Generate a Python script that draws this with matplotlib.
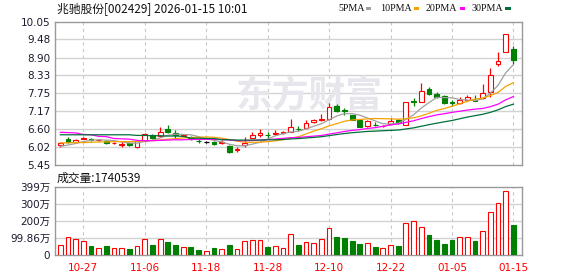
import matplotlib
matplotlib.use("Agg")
import matplotlib.pyplot as plt
import numpy as np

# ---------------- data ----------------
dates = ["10-22", "10-23", "10-24", "10-27", "10-28", "10-29", "10-30", "10-31", "11-03", "11-04",
         "11-05", "11-06", "11-07", "11-10", "11-11", "11-12", "11-13", "11-14", "11-17", "11-18",
         "11-19", "11-20", "11-21", "11-24", "11-25", "11-26", "11-27", "11-28", "12-01", "12-02",
         "12-03", "12-04", "12-05", "12-08", "12-09", "12-10", "12-11", "12-12", "12-15", "12-16",
         "12-17", "12-18", "12-19", "12-22", "12-23", "12-24", "12-25", "12-26", "12-29", "12-30",
         "12-31", "01-05", "01-06", "01-07", "01-08", "01-09", "01-12", "01-13", "01-14", "01-15"]
tick_labels = ["10-27", "11-06", "11-18", "11-28", "12-10", "12-22", "01-05", "01-15"]

opens = [6.08, 6.28, 6.19, 6.30, 6.28, 6.24, 6.22, 6.16, 6.10, 6.15,
         6.02, 6.23, 6.41, 6.38, 6.60, 6.49, 6.37, 6.35, 6.22, 6.19,
         6.20, 6.15, 6.07, 5.94, 6.10, 6.33, 6.40, 6.42, 6.46, 6.48,
         6.52, 6.62, 6.65, 6.84, 6.88, 6.92, 7.35, 7.21, 7.05, 6.89,
         6.70, 6.74, 6.69, 6.76, 6.91, 6.75, 7.49, 7.48, 7.89, 7.74,
         7.66, 7.46, 7.44, 7.54, 7.54, 7.59, 7.78, 8.70, 9.09, 9.17]
highs = [6.20, 6.35, 6.28, 6.36, 6.31, 6.27, 6.24, 6.19, 6.21, 6.19,
         6.25, 6.47, 6.45, 6.67, 6.75, 6.57, 6.46, 6.37, 6.28, 6.23,
         6.21, 6.25, 6.08, 6.03, 6.35, 6.50, 6.60, 6.50, 6.56, 6.55,
         6.93, 6.71, 6.88, 6.93, 7.09, 7.44, 7.41, 7.27, 7.06, 6.89,
         6.88, 6.84, 6.74, 6.97, 6.93, 7.47, 7.59, 8.08, 7.95, 7.78,
         7.70, 7.54, 7.63, 7.70, 7.70, 8.05, 8.55, 9.09, 9.67, 9.26]
lows = [6.04, 6.16, 6.16, 6.27, 6.23, 6.21, 6.13, 6.14, 6.04, 6.05,
        6.01, 6.22, 6.29, 6.36, 6.47, 6.29, 6.34, 6.26, 6.15, 6.16,
        6.10, 6.12, 5.85, 5.86, 6.03, 6.31, 6.34, 6.33, 6.42, 6.46,
        6.50, 6.54, 6.62, 6.79, 6.86, 6.91, 7.16, 7.05, 6.89, 6.66,
        6.67, 6.71, 6.67, 6.76, 6.77, 6.73, 7.35, 7.48, 7.70, 7.61,
        7.42, 7.35, 7.42, 7.50, 7.50, 7.58, 7.63, 8.64, 9.09, 8.70]
closes = [6.17, 6.20, 6.26, 6.33, 6.26, 6.25, 6.15, 6.17, 6.12, 6.08,
          6.23, 6.45, 6.32, 6.51, 6.50, 6.41, 6.41, 6.27, 6.21, 6.19,
          6.12, 6.18, 5.88, 5.97, 6.17, 6.40, 6.47, 6.40, 6.49, 6.51,
          6.67, 6.59, 6.79, 6.90, 6.92, 7.31, 7.19, 7.17, 6.90, 6.68,
          6.86, 6.72, 6.71, 6.87, 6.79, 7.47, 7.46, 7.81, 7.72, 7.63,
          7.45, 7.43, 7.53, 7.64, 7.52, 7.75, 8.33, 8.79, 9.67, 8.81]

ma5 = [6.05, 6.09, 6.14, 6.20, 6.244, 6.26, 6.25, 6.232, 6.19, 6.154,
       6.15, 6.21, 6.24, 6.318, 6.402, 6.438, 6.43, 6.42, 6.36, 6.298,
       6.24, 6.194, 6.116, 6.068, 6.064, 6.12, 6.178, 6.282, 6.386, 6.454,
       6.508, 6.532, 6.61, 6.692, 6.774, 6.902, 7.022, 7.098, 7.098, 7.05,
       6.96, 6.866, 6.774, 6.768, 6.79, 6.912, 7.06, 7.28, 7.45, 7.618,
       7.614, 7.608, 7.552, 7.536, 7.514, 7.574, 7.754, 8.006, 8.412, 8.67]
ma10 = [6.16, 6.16, 6.17, 6.17, 6.18, 6.19, 6.19, 6.20, 6.20, 6.199,
        6.205, 6.23, 6.236, 6.254, 6.278, 6.294, 6.32, 6.33, 6.339, 6.35,
        6.339, 6.312, 6.268, 6.214, 6.181, 6.18, 6.186, 6.199, 6.227, 6.259,
        6.314, 6.355, 6.446, 6.539, 6.614, 6.705, 6.777, 6.854, 6.895, 6.912,
        6.931, 6.944, 6.936, 6.933, 6.92, 6.936, 6.963, 7.027, 7.109, 7.204,
        7.263, 7.334, 7.416, 7.493, 7.566, 7.594, 7.681, 7.779, 7.974, 8.092]
ma20 = [6.50, 6.49, 6.48, 6.43, 6.42, 6.37, 6.36, 6.30, 6.29, 6.28,
        6.24, 6.23, 6.23, 6.24, 6.25, 6.26, 6.26, 6.27, 6.27, 6.275,
        6.272, 6.271, 6.252, 6.234, 6.23, 6.237, 6.253, 6.265, 6.283, 6.305,
        6.327, 6.334, 6.357, 6.377, 6.398, 6.443, 6.482, 6.527, 6.561, 6.586,
        6.623, 6.65, 6.691, 6.736, 6.767, 6.82, 6.87, 6.94, 7.002, 7.058,
        7.097, 7.139, 7.176, 7.213, 7.243, 7.265, 7.322, 7.403, 7.542, 7.648]
ma30 = [6.42, 6.42, 6.42, 6.42, 6.42, 6.42, 6.42, 6.42, 6.42, 6.42,
        6.40, 6.40, 6.39, 6.39, 6.38, 6.38, 6.37, 6.31, 6.31, 6.30,
        6.30, 6.26, 6.26, 6.25, 6.25, 6.25, 6.25, 6.26, 6.26, 6.269,
        6.286, 6.299, 6.317, 6.336, 6.358, 6.393, 6.428, 6.461, 6.487, 6.507,
        6.528, 6.537, 6.55, 6.562, 6.572, 6.607, 6.642, 6.693, 6.744, 6.792,
        6.836, 6.878, 6.933, 6.988, 7.033, 7.078, 7.14, 7.22, 7.326, 7.403]

# volume in 万
volume = [56, 108, 96, 80, 51, 43, 51, 39, 43, 34,
          50, 91, 57, 91, 76, 58, 45, 47, 29, 23,
          41, 35, 58, 35, 80, 86, 86, 47, 51, 39,
          121, 58, 78, 72, 92, 156, 105, 99, 82, 64,
          68, 47, 39, 58, 53, 185, 197, 164, 117, 88,
          64, 88, 103, 103, 82, 138, 249, 302, 374, 174.0539]
vol_up = [1, 1, 1, 1, 0, 1, 0, 1, 1, 0,
          1, 1, 0, 1, 0, 0, 1, 0, 0, 1,
          0, 1, 0, 1, 1, 1, 1, 0, 1, 1,
          1, 0, 1, 1, 1, 1, 0, 0, 0, 0,
          1, 0, 1, 1, 0, 1, 1, 1, 0, 0,
          0, 0, 1, 1, 0, 1, 1, 1, 1, 0]

price_ticks = [5.45, 6.02, 6.60, 7.17, 7.75, 8.33, 8.90, 9.48, 10.05]
vol_ticks = [0, 99.86, 199.72, 299.58, 399.44]
vol_tick_labels = ["0", "99.86万", "200万", "300万", "399万"]

# ---------------- style ----------------
RED = "#ff0000"
GREEN = "#008000"
C_MA5 = "#a0a0a0"
C_MA10 = "#f5a200"
C_MA20 = "#ff00ff"
C_MA30 = "#00703a"
FRAME = "#999999"
GRID = "#d2d2d2"
FONTS = ["DejaVu Sans", "Noto Sans CJK SC"]
CJK = ["Noto Sans CJK SC", "DejaVu Sans"]

W, H = 578, 276
fig = plt.figure(figsize=(W / 100, H / 100), dpi=100)
fig.patch.set_facecolor("white")


def rect(l, t, r, b):
    return [l / W, 1 - b / H, (r - l) / W, (b - t) / H]


ax = fig.add_axes(rect(55, 21.7, 522.3, 165))
axv = fig.add_axes(rect(55, 186.7, 522.3, 255))

x = np.arange(len(dates))
tick_idx = [dates.index(t) for t in tick_labels]
bw = 0.62

for a in (ax, axv):
    a.set_xlim(-0.69, 60.16)
    for s in a.spines.values():
        s.set_color(FRAME)
        s.set_linewidth(1.0)
    a.tick_params(length=0)
    for ti in tick_idx:
        a.axvline(ti, color="#c8c8c8", lw=0.8, ls=(0, (3, 3)), zorder=0)

# price panel
ax.set_ylim(5.45, 10.05)
for v in price_ticks[1:-1]:
    ax.axhline(v, color=GRID, lw=1.0, zorder=0)
ax.set_yticks(price_ticks)
ax.set_yticklabels([f"{v:.2f}" for v in price_ticks], fontsize=7.5, color="#1a1a2e", family=FONTS)
ax.set_xticks([])

ax.text(0.5435, 0.475, "东方财富", transform=ax.transAxes, ha="center", va="center",
        fontsize=26.5, fontweight="bold", color="#e6e6ec", family=CJK, zorder=0.5)

o = np.array(opens); c = np.array(closes); hi = np.array(highs); lo = np.array(lows)
for i in x:
    if c[i] > o[i]:
        col, face = RED, "white"
    elif c[i] < o[i]:
        col, face = GREEN, GREEN
    else:
        col, face = "#000000", "#000000"
    ax.vlines(i, lo[i], hi[i], color=col, lw=0.9, zorder=2)
    if c[i] == o[i]:
        ax.hlines(c[i], i - bw / 2, i + bw / 2, color=col, lw=0.9, zorder=3)
    else:
        ax.bar(i, abs(c[i] - o[i]), bottom=min(o[i], c[i]), width=bw, facecolor=face,
               edgecolor=col, linewidth=0.8, zorder=3)

ax.plot(x, ma5, color=C_MA5, lw=0.9, zorder=4)
ax.plot(x, ma10, color=C_MA10, lw=0.9, zorder=4)
ax.plot(x, ma20, color=C_MA20, lw=0.9, zorder=4)
ax.plot(x, ma30, color=C_MA30, lw=0.9, zorder=4)

# volume panel
axv.set_ylim(0, 399.44)
for v in vol_ticks[1:-1]:
    axv.axhline(v, color=GRID, lw=1.0, zorder=0)
axv.set_yticks(vol_ticks)
axv.set_yticklabels(vol_tick_labels, fontsize=7.5, color="#1a1a2e", family=FONTS)
axv.set_xticks(tick_idx)
axv.set_xticklabels(tick_labels, fontsize=7.5, color=RED, family=FONTS)
axv.tick_params(axis="x", pad=6)
for i in x:
    if vol_up[i]:
        axv.bar(i, volume[i], width=bw, facecolor="white", edgecolor=RED, linewidth=0.8, zorder=3)
    else:
        axv.bar(i, volume[i], width=bw, facecolor=GREEN, edgecolor=GREEN, linewidth=0.8, zorder=3)

# texts
fig.text(57 / W, 1 - 9 / H, "兆驰股份[002429] 2026-01-15 10:01", ha="left", va="center",
         fontsize=8.5, color="#111111", family=CJK)
fig.text(57 / W, 1 - 178 / H, "成交量:1740539", ha="left", va="center",
         fontsize=8.5, color="#111111", family=CJK)

legend_items = [("5PMA", 338, 365.5, C_MA5), ("10PMA", 380, 413.5, C_MA10),
                ("20PMA", 425.5, 459.5, C_MA20), ("30PMA", 471.5, 505.2, C_MA30)]
for label, tx, sx, col in legend_items:
    fig.text(tx / W, 1 - 8.6 / H, label, ha="left", va="center", fontsize=7.2,
             color="#111111", family=["Liberation Serif"])
    fig.patches.append(plt.Rectangle((sx / W, 1 - 10 / H), 5.3 / W, 3 / H,
                                     transform=fig.transFigure, facecolor=col,
                                     edgecolor="none", figure=fig))

fig.savefig("out.png", dpi=100, facecolor="white")
